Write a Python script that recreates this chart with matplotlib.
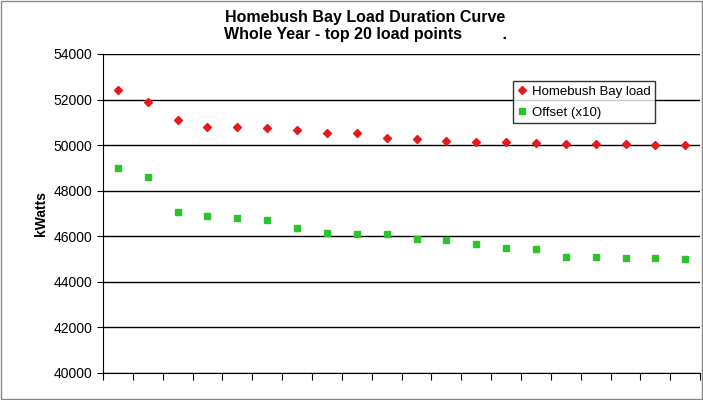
import matplotlib
matplotlib.use("Agg")
import matplotlib.pyplot as plt
import numpy as np

load = [52400, 51900, 51100, 50800, 50800, 50750, 50650, 50550, 50550, 50300,
        50250, 50200, 50150, 50150, 50100, 50050, 50050, 50050, 50000, 50000]
offset = [49000, 48600, 47050, 46900, 46800, 46700, 46350, 46150, 46100, 46100,
          45900, 45850, 45650, 45500, 45450, 45100, 45100, 45050, 45050, 45000]
yticks = list(range(40000, 54001, 2000))

plt.rcParams['font.family'] = ['Liberation Sans', 'DejaVu Sans']
fig = plt.figure(figsize=(7.03, 4.0), dpi=100)
fig.patches.append(plt.Rectangle((0.001, 0.002), 0.997, 0.996, transform=fig.transFigure,
                                 fill=False, edgecolor='#888888', linewidth=1))
ax = fig.add_axes([0.1465, 0.0675, 0.8495, 0.7975])

x = np.arange(1, len(load) + 1)
ax.plot(x, load, linestyle='none', marker='D', markersize=4.5, color='#e41a1c', label='Homebush Bay load')
ax.plot(x, offset, linestyle='none', marker='s', markersize=4, color='#2bc42b', label='Offset (x10)')

ax.set_xlim(0.5, 20.5)
ax.set_ylim(40000, 54000)
ax.set_yticks(yticks)
ax.set_xticks(np.arange(0.5, 21, 1))
ax.set_xticklabels([])
ax.tick_params(axis='x', direction='out', length=5)
ax.tick_params(axis='y', direction='out', length=4, labelsize=10)
ax.yaxis.grid(True, color='black', linewidth=1)
ax.set_axisbelow(True)
for s in ['top', 'right']:
    ax.spines[s].set_visible(False)
ax.set_ylabel('kWatts', fontsize=10, fontweight='bold')

fig.text(0.52, 0.975, 'Homebush Bay Load Duration Curve\nWhole Year - top 20 load points         .',
         ha='center', va='top', fontsize=11.5, fontweight='bold', linespacing=1.15)

leg = ax.legend(loc='upper left', bbox_to_anchor=(0.675, 0.935), fontsize=9.5, frameon=True,
                fancybox=False, edgecolor='black', handlelength=0.8, handletextpad=0.4,
                borderpad=0.3, labelspacing=0.7)
leg.get_frame().set_linewidth(1)

fig.savefig('out.png', dpi=100)
